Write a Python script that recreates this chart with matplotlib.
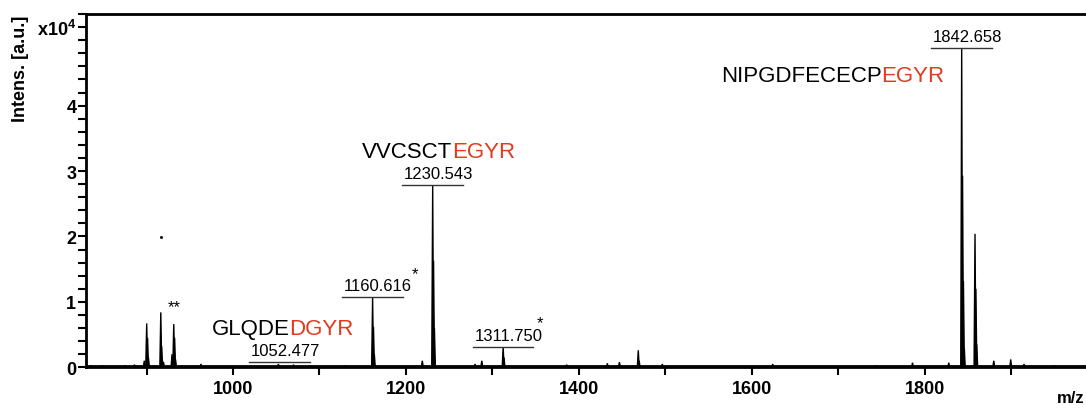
#!/usr/bin/env python3
"""MALDI spectrum with labelled EGYR-tagged peptides."""

import matplotlib
matplotlib.use("Agg")
import matplotlib.pyplot as plt
from matplotlib.ticker import FixedLocator, MultipleLocator

# peak list (m/z, intensity in units of 1e4), isotopes listed separately
peak_mz = [
    835.8, 849.0, 875.0, 886.0, 897.4,
    900.2, 901.2, 902.2,
    916.5, 917.5, 918.5, 919.6,
    929.5, 931.5, 932.5, 933.5,
    963.0, 1052.5, 1070.0, 1090.0, 1130.0,
    1161.5, 1162.5, 1163.5,
    1219.0,
    1231.0, 1232.0, 1233.0,
    1280.0, 1287.8,
    1312.5, 1313.5,
    1386.0, 1433.0, 1447.0,
    1468.8, 1469.8,
    1496.6, 1624.3, 1743.4, 1786.0, 1828.0,
    1842.9, 1843.9, 1844.9, 1845.9,
    1858.3, 1859.3, 1860.3,
    1880.0, 1899.6, 1915.0, 1950.0,
]
peak_int = [
    0.03, 0.03, 0.03, 0.04, 0.10,
    0.67, 0.45, 0.15,
    0.84, 0.32, 0.10, 0.08,
    0.20, 0.66, 0.45, 0.12,
    0.05, 0.05, 0.04, 0.03, 0.03,
    1.07, 0.62, 0.20,
    0.10,
    2.78, 1.63, 0.60,
    0.05, 0.10,
    0.31, 0.15,
    0.04, 0.06, 0.08,
    0.26, 0.10,
    0.05, 0.05, 0.03, 0.07, 0.07,
    4.88, 2.93, 1.32, 0.30,
    2.04, 1.20, 0.35,
    0.10, 0.12, 0.05, 0.03,
]

# labelled monoisotopic peaks: drawn position, bar height, label
label_mz = [1054.0, 1161.5, 1231.0, 1312.5, 1842.9]
label_int = [0.077, 1.07, 2.78, 0.31, 4.88]
label_text = ["1052.477", "1160.616", "1230.543", "1311.750", "1842.658"]

# peptide sequences: left edge, centre height, black part, red tag
seq_mz = [975.3, 1148.9, 1564.1]
seq_y = [0.60, 3.30, 4.46]
seq_black = ["GLQDE", "VVCSCT", "NIPGDFECECP"]
seq_red = ["DGYR", "EGYR", "EGYR"]

# asterisks marking side products
star_mz = [931.8, 1210.6, 1355.2]
star_y = [0.93, 1.43, 0.69]
star_text = ["**", "*", "*"]

RED = "#e23a1f"
plt.rcParams["font.family"] = ["Liberation Sans", "DejaVu Sans"]
plt.rcParams["mathtext.fontset"] = "custom"
plt.rcParams["mathtext.bf"] = "Liberation Sans:bold"
plt.rcParams["mathtext.rm"] = "Liberation Sans"


def draw_spectrum(ax):
    ax.plot([830, 2000], [0.025, 0.025], color="black", lw=1.3)
    for mz, h in zip(peak_mz, peak_int):
        ax.fill([mz - 1.1, mz, mz + 1.1], [0.0, h, 0.0],
                color="black", lw=1.0)
    # stray dot seen above the 917 peak
    ax.plot([916.4], [1.99], marker="s", ms=1.0, color="black")


def draw_labels(ax):
    half = 35.0
    for mz, h, txt in zip(label_mz, label_int, label_text):
        ax.plot([mz - half, mz + half], [h, h], color="#333333", lw=1.0)
        ax.annotate(txt, xy=(mz - half, h), xytext=(1, 3),
                    textcoords="offset points", ha="left", va="bottom",
                    fontsize=12)

    for x, y, b, r in zip(seq_mz, seq_y, seq_black, seq_red):
        t = ax.text(x, y, b, ha="left", va="center", fontsize=16)
        ax.annotate(r, xy=(1, 0), xycoords=t, ha="left", va="bottom",
                    fontsize=16, color=RED)

    for x, y, s in zip(star_mz, star_y, star_text):
        ax.text(x, y, s, ha="center", va="center", fontsize=12)


def main():
    fig = plt.figure(figsize=(10.86, 4.10), dpi=100)
    ax = fig.add_axes([0.0792, 0.1017, 0.9314, 0.8617])

    draw_spectrum(ax)
    draw_labels(ax)

    ax.set_xlim(830, 2000)
    ax.set_ylim(0, 5.40)

    # 2000 falls outside the cropped picture, so it is not labelled
    ax.xaxis.set_major_locator(FixedLocator([1000, 1200, 1400, 1600, 1800]))
    ax.xaxis.set_minor_locator(FixedLocator([900, 1100, 1300, 1500, 1700, 1900]))
    ax.yaxis.set_major_locator(FixedLocator([0, 1, 2, 3, 4, 5.2]))
    ax.yaxis.set_minor_locator(MultipleLocator(0.2))
    ax.set_yticklabels(["0", "1", "2", "3", "4", r"x10$^\mathbf{4}$"])

    for lab in ax.get_xticklabels() + ax.get_yticklabels():
        lab.set_fontweight("bold")
        lab.set_fontsize(13)

    ax.tick_params(which="both", direction="out", length=6, width=1.5)
    ax.tick_params(axis="y", pad=1)
    ax.tick_params(axis="x", pad=3)
    for side in ax.spines.values():
        side.set_linewidth(2.0)

    fig.text(20.5 / 1086, 1 - 68.5 / 410, "Intens. [a.u.]", rotation=90,
             ha="center", va="center", fontsize=13, fontweight="bold")
    fig.text(1057 / 1086, 1 - 399 / 410, "m/z", ha="left", va="center",
             fontsize=12, fontweight="bold")

    fig.savefig("out.png", dpi=100)


if __name__ == "__main__":
    main()
